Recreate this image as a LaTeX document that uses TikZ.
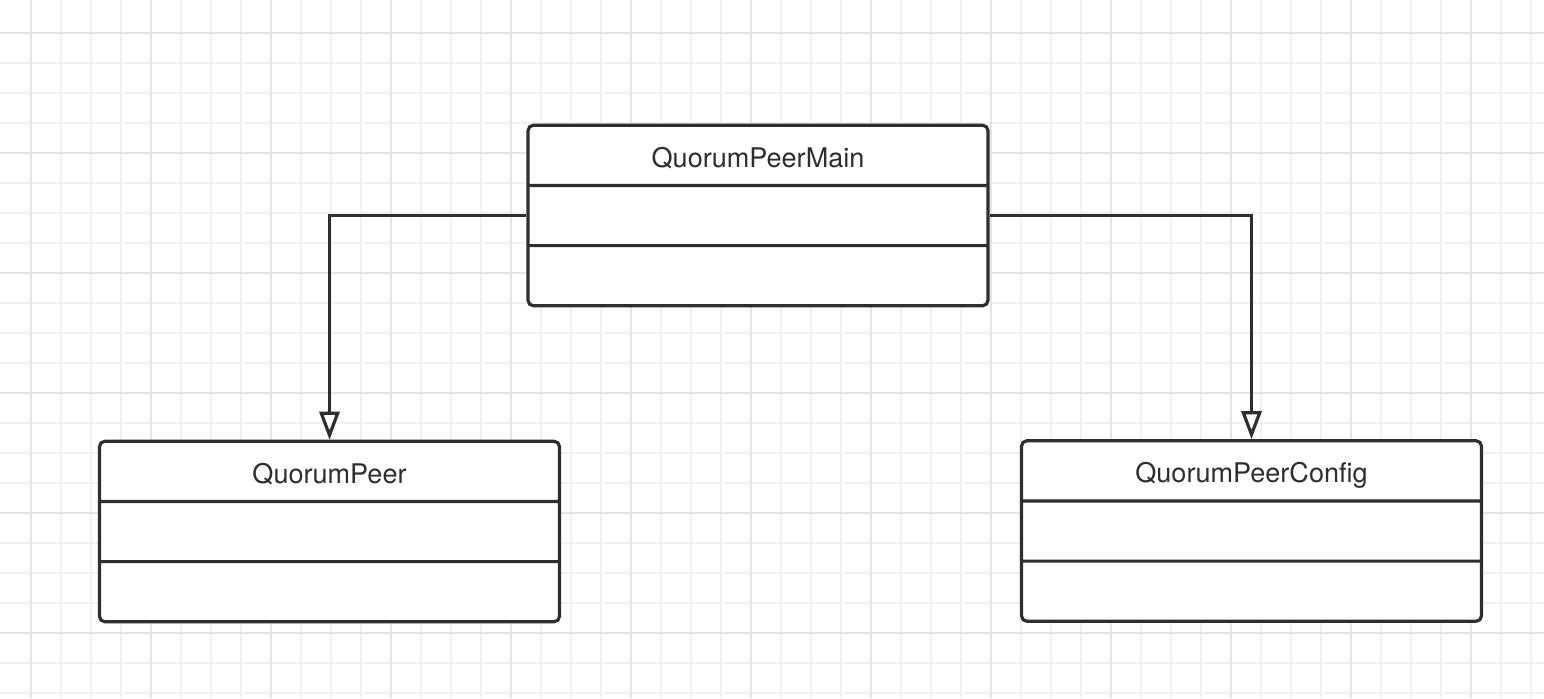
\documentclass[tikz,border=0pt]{standalone}
\usepackage{fontspec}
\newfontfamily\umlfont{TeX Gyre Heros}
\usetikzlibrary{shapes.multipart,arrows.meta}
\definecolor{gridminor}{HTML}{F0F0F0}
\definecolor{gridmajor}{HTML}{E4E4E4}
\definecolor{umlline}{HTML}{2E2E2E}
\newcommand{\umlstrut}{\rule[-0.33cm]{0pt}{1.14cm}}
\tikzset{
  umlclass/.style={rectangle split, rectangle split parts=3, draw=umlline,
    line width=1.8pt, rounded corners=3pt, fill=white, minimum width=9.2cm,
    inner ysep=0pt, text=umlline, font=\umlfont\fontsize{15.4}{18}\selectfont},
  inherit/.style={draw=umlline, line width=1.8pt,
    -{Triangle[open,length=0.56cm,width=0.4cm,fill=white]}}
}
\begin{document}
\begin{tikzpicture}[x=0.02cm,y=-0.02cm]
	\useasboundingbox (0,0) rectangle (1544,698);
	\fill [white] (0,0) rectangle (1544,698);
	% grid
	\foreach \gx in {31,61,...,1531} \draw [gridminor, line width=0.7pt] (\gx,0) -- (\gx,698);
	\foreach \gy in {33,63,...,693} \draw [gridminor, line width=0.7pt] (0,\gy) -- (1544,\gy);
	\foreach \gx in {31,151,...,1471} \draw [gridmajor, line width=0.9pt] (\gx,0) -- (\gx,698);
	\foreach \gy in {33,153,...,633} \draw [gridmajor, line width=0.9pt] (0,\gy) -- (1544,\gy);
	% classes
	\node [umlclass] (main) at (758,215.5) {\umlstrut QuorumPeerMain \nodepart{second}\umlstrut \nodepart{third}\umlstrut};
	\node [umlclass] (peer) at (329.5,531.5) {\umlstrut QuorumPeer \nodepart{second}\umlstrut \nodepart{third}\umlstrut};
	\node [umlclass] (config) at (1251.5,531) {\umlstrut QuorumPeerConfig \nodepart{second}\umlstrut \nodepart{third}\umlstrut};
	% connectors
	\draw [inherit] (main.west) -| (peer.north);
	\draw [inherit] (main.east) -| (config.north);
\end{tikzpicture}
\end{document}
